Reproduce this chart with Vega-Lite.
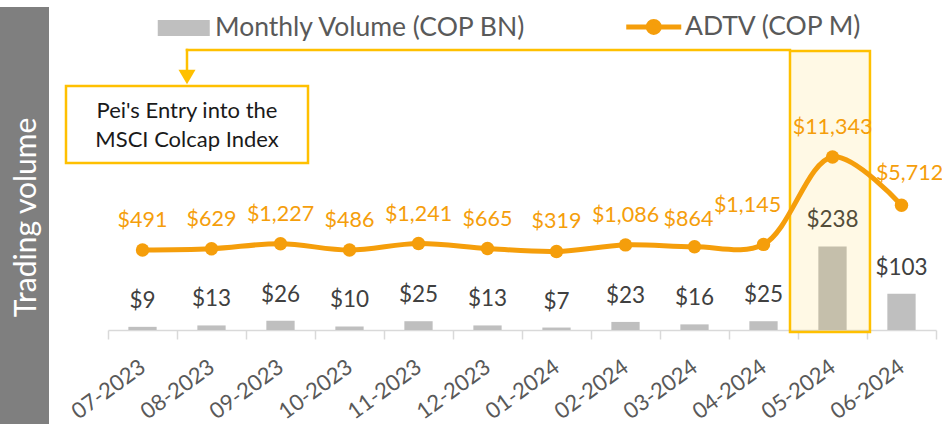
{
  "$schema": "https://vega.github.io/schema/vega-lite/v6.json",
  "background": "white",
  "padding": {"left": 0, "top": 7, "right": 0, "bottom": 0},
  "bounds": "flush",
  "spacing": 59,
  "config": {"font": "Lato", "view": {"stroke": null}},
  "datasets": {
    "months": [
      {"month": "07-2023", "volume": 9, "adtv": 491},
      {"month": "08-2023", "volume": 13, "adtv": 629},
      {"month": "09-2023", "volume": 26, "adtv": 1227},
      {"month": "10-2023", "volume": 10, "adtv": 486},
      {"month": "11-2023", "volume": 25, "adtv": 1241},
      {"month": "12-2023", "volume": 13, "adtv": 665},
      {"month": "01-2024", "volume": 7, "adtv": 319},
      {"month": "02-2024", "volume": 23, "adtv": 1086},
      {"month": "03-2024", "volume": 16, "adtv": 864},
      {"month": "04-2024", "volume": 25, "adtv": 1145},
      {"month": "05-2024", "volume": 238, "adtv": 11343},
      {"month": "06-2024", "volume": 103, "adtv": 5712}
    ]
  },
  "hconcat": [
    {
      "width": 49,
      "height": 417,
      "view": {"fill": "#7F7F7F", "stroke": null},
      "data": {"values": [{"label": "Trading volume"}]},
      "mark": {"type": "text", "angle": 270, "color": "white", "fontSize": 30, "baseline": "middle", "align": "center", "dx": -2, "dy": 2},
      "encoding": {"text": {"field": "label"}}
    },
    {
      "width": 828,
      "height": 323,
      "resolve": {"scale": {"x": "independent", "y": "independent"}, "axis": {"x": "independent", "y": "independent"}},
      "layer": [
        {
          "data": {"name": "months"},
          "encoding": {
            "x": {
              "field": "month", "type": "nominal", "sort": null,
              "scale": {"paddingInner": 0, "paddingOuter": 0},
              "axis": {
                "title": null, "labelAngle": -36, "labelAlign": "right", "labelBaseline": "middle",
                "labelFontSize": 22, "labelColor": "#595959", "labelPadding": 25,
                "tickBand": "extent", "tickSize": 9, "tickColor": "#D9D9D9", "tickWidth": 1.5,
                "domainColor": "#D9D9D9", "domainWidth": 1.5, "grid": false, "labelOverlap": false
              }
            }
          },
          "layer": [
            {
              "mark": {"type": "bar", "width": {"band": 0.41}},
              "encoding": {
                "y": {"field": "volume", "type": "quantitative", "scale": {"domain": [0, 920], "nice": false}, "axis": null},
                "color": {
                  "datum": "Monthly Volume (COP BN)", "type": "nominal",
                  "scale": {"domain": ["Monthly Volume (COP BN)", "ADTV (COP M)"], "range": ["#BFBFBF", "#F59E0B"]},
                  "legend": {
                    "orient": "none", "legendX": 170.5, "legendY": 6.5, "direction": "horizontal", "title": null,
                    "padding": 0, "symbolSize": 625, "labelFontSize": 26.5, "labelColor": "#595959",
                    "labelOffset": 18, "columnPadding": 88, "labelLimit": 0,
                    "encode": {
                      "symbols": {
                        "update": {
                          "shape": {"signal": "datum.value === 'ADTV (COP M)' ? 'M-2.2,0H2.2M0.44,0A0.44,0.44,0,1,1,-0.44,0A0.44,0.44,0,1,1,0.44,0Z' : 'M-2.08,-0.64H2.08V0.64H-2.08Z'"},
                          "fill": {"signal": "datum.value === 'ADTV (COP M)' ? '#F59E0B' : '#BFBFBF'"},
                          "stroke": {"signal": "datum.value === 'ADTV (COP M)' ? '#F59E0B' : '#BFBFBF'"},
                          "strokeWidth": {"signal": "datum.value === 'ADTV (COP M)' ? 5 : 0"},
                          "opacity": {"value": 1}
                        }
                      }
                    }
                  }
                }
              }
            },
            {
              "mark": {"type": "text", "baseline": "middle", "dy": -26, "fontSize": 22.5, "color": "#404040"},
              "encoding": {
                "y": {"field": "volume", "type": "quantitative"},
                "text": {"field": "volume", "type": "quantitative", "format": "$,.0f"}
              }
            }
          ]
        },
        {
          "data": {"values": [{}]},
          "mark": {"type": "rect", "fill": "#FFC000", "fillOpacity": 0.1, "stroke": "#FFC000", "strokeWidth": 2.5},
          "encoding": {
            "x": {"datum": 9.884, "type": "quantitative", "scale": {"domain": [0, 12], "nice": false, "zero": false}, "axis": null},
            "x2": {"datum": 11.043},
            "y": {"datum": 794.7, "type": "quantitative", "scale": {"domain": [0, 920], "nice": false}, "axis": null},
            "y2": {"datum": -5.7}
          }
        },
        {
          "data": {"name": "months"},
          "encoding": {
            "x": {"field": "month", "type": "nominal", "sort": null, "scale": {"type": "point", "padding": 0.5}, "axis": null},
            "y": {"field": "adtv", "type": "quantitative", "scale": {"domain": [-8845, 28845], "nice": false, "zero": false}, "axis": null}
          },
          "layer": [
            {
              "mark": {"type": "line", "interpolate": "catmull-rom", "strokeWidth": 5},
              "encoding": {"color": {"datum": "ADTV (COP M)", "type": "nominal"}}
            },
            {
              "mark": {"type": "point", "filled": true, "size": 180, "opacity": 1},
              "encoding": {"color": {"datum": "ADTV (COP M)", "type": "nominal"}}
            },
            {
              "transform": [{"filter": "indexof(['03-2024','04-2024','06-2024'], datum.month) < 0"}],
              "mark": {"type": "text", "baseline": "middle", "dy": -29, "fontSize": 21.5, "color": "#F59E0B"},
              "encoding": {"text": {"field": "adtv", "type": "quantitative", "format": "$,.0f"}}
            },
            {
              "transform": [{"filter": "datum.month === '03-2024'"}],
              "mark": {"type": "text", "baseline": "middle", "dx": -6, "dy": -27, "fontSize": 21.5, "color": "#F59E0B"},
              "encoding": {"text": {"field": "adtv", "type": "quantitative", "format": "$,.0f"}}
            },
            {
              "transform": [{"filter": "datum.month === '04-2024'"}],
              "mark": {"type": "text", "baseline": "middle", "dx": -16, "dy": -38, "fontSize": 21.5, "color": "#F59E0B"},
              "encoding": {"text": {"field": "adtv", "type": "quantitative", "format": "$,.0f"}}
            },
            {
              "transform": [{"filter": "datum.month === '06-2024'"}],
              "mark": {"type": "text", "baseline": "middle", "dx": 8, "dy": -31, "fontSize": 21.5, "color": "#F59E0B"},
              "encoding": {"text": {"field": "adtv", "type": "quantitative", "format": "$,.0f"}}
            }
          ]
        },
        {
          "data": {"values": [{}]},
          "encoding": {
            "x": {"datum": 1.1449, "type": "quantitative", "scale": {"domain": [0, 12], "nice": false, "zero": false}, "axis": null},
            "y": {"datum": 797.5, "type": "quantitative", "scale": {"domain": [0, 920], "nice": false}, "axis": null}
          },
          "layer": [
            {
              "mark": {"type": "rule", "color": "#FFC000", "strokeWidth": 2.5, "strokeCap": "square"},
              "encoding": {"x2": {"datum": 9.884}}
            },
            {
              "mark": {"type": "rule", "color": "#FFC000", "strokeWidth": 2.5, "strokeCap": "square"},
              "encoding": {"y2": {"datum": 735}}
            },
            {
              "mark": {"type": "point", "shape": "triangle-down", "filled": true, "size": 289, "color": "#FFC000", "opacity": 1},
              "encoding": {"y": {"datum": 720.6, "type": "quantitative"}}
            },
            {
              "mark": {"type": "rect", "fill": "white", "stroke": "#FFC000", "strokeWidth": 2.5},
              "encoding": {
                "x": {"datum": -0.6087, "type": "quantitative"},
                "x2": {"datum": 2.8986},
                "y": {"datum": 695, "type": "quantitative"},
                "y2": {"datum": 475.7}
              }
            },
            {
              "mark": {"type": "text", "baseline": "alphabetic", "align": "center", "fontSize": 22, "color": "#1A1A1A", "text": "Pei's Entry into the"},
              "encoding": {"y": {"datum": 603, "type": "quantitative"}}
            },
            {
              "mark": {"type": "text", "baseline": "alphabetic", "align": "center", "fontSize": 22, "color": "#1A1A1A", "text": "MSCI Colcap Index"},
              "encoding": {"y": {"datum": 521, "type": "quantitative"}}
            }
          ]
        }
      ]
    }
  ]
}
